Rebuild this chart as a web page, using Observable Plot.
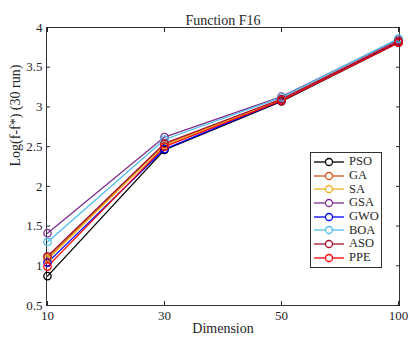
<!DOCTYPE html>
<html><head><meta charset="utf-8">
<script src="https://cdn.jsdelivr.net/npm/d3@7"></script>
<script src="https://cdn.jsdelivr.net/npm/@observablehq/plot@0.6"></script>
<style>
body{margin:0;background:#fff;font-family:"Liberation Serif",serif;}
#wrap{position:relative;width:411px;height:342px;}
#legend{position:absolute;left:310px;top:152px;width:70px;background:#fff;border:1px solid #333;padding:2px 0 2px 0;font-family:"Liberation Serif",serif;font-size:12.5px;color:#262626;}
#legend div{display:flex;align-items:center;height:13.7px;}
#legend span{margin-left:2px;}
</style></head>
<body><div id="wrap"></div>
<script>
const dims = ["10","30","50","100"];
const names = ["PSO","GA","SA","GSA","GWO","BOA","ASO","PPE"];
const colors = ["#000000","#D95319","#EDB120","#7E2F8E","#0000FF","#4DBEEE","#A2142F","#FF0000"];
const PSO = [0.87, 2.46, 3.07, 3.81];
const GA  = [1.10, 2.53, 3.10, 3.83];
const SA  = [1.08, 2.52, 3.09, 3.83];
const GSA = [1.41, 2.62, 3.13, 3.85];
const GWO = [1.04, 2.47, 3.08, 3.82];
const BOA = [1.30, 2.59, 3.12, 3.86];
const ASO = [1.12, 2.54, 3.10, 3.83];
const PPE = [0.99, 2.50, 3.08, 3.81];
const yTicks = [0.5,1,1.5,2,2.5,3,3.5,4];
const series = [PSO,GA,SA,GSA,GWO,BOA,ASO,PPE];

const data = [];
names.forEach((n,i)=>series[i].forEach((v,j)=>data.push({algo:n,dim:dims[j],val:v})));

const plot = Plot.plot({
  width:411, height:342,
  marginLeft:46, marginRight:12, marginTop:27, marginBottom:37,
  style:{fontFamily:"Liberation Serif, serif", fontSize:"13px", color:"#262626"},
  x:{type:"point", domain:dims, padding:0},
  y:{domain:[0.5,4]},
  color:{domain:names, range:colors},
  marks:[
    Plot.frame({stroke:"#333"}),
    Plot.axisX({ticks:dims, tickSize:-4, tickPadding:9, label:null, fontSize:13}),
    Plot.axisX({anchor:"top", ticks:dims, tickSize:-4, tickFormat:()=>"", label:null}),
    Plot.axisY({ticks:yTicks, tickSize:-4, tickPadding:8, tickFormat:d=>String(d), label:null, fontSize:13}),
    Plot.axisY({anchor:"right", ticks:yTicks, tickSize:-4, tickFormat:()=>"", label:null}),
    Plot.line(data,{x:"dim", y:"val", z:"algo", stroke:"algo", strokeWidth:1.3}),
    Plot.dot(data,{x:"dim", y:"val", stroke:"algo", r:3.7, strokeWidth:1.3, fill:"none"}),
    Plot.text(["Function F16"],{frameAnchor:"top", dy:-12, fontSize:14, fill:"#262626"}),
    Plot.text(["Dimension"],{frameAnchor:"bottom", dy:27, fontSize:14, fill:"#262626"}),
    Plot.text(["Log(f-f*) (30 run)"],{frameAnchor:"left", dx:-31, rotate:-90, fontSize:14, fill:"#262626"})
  ]
});
const wrap = document.getElementById("wrap");
wrap.appendChild(plot);
const lg = document.createElement("div");
lg.id="legend";
names.forEach((n,i)=>{
  const row=document.createElement("div");
  row.innerHTML=`<svg width="36" height="12"><line x1="3" x2="33" y1="6" y2="6" stroke="${colors[i]}" stroke-width="1.3"/><circle cx="18" cy="6" r="3.5" fill="white" stroke="${colors[i]}" stroke-width="1.3"/></svg><span>${n}</span>`;
  lg.appendChild(row);
});
wrap.appendChild(lg);
</script></body></html>
